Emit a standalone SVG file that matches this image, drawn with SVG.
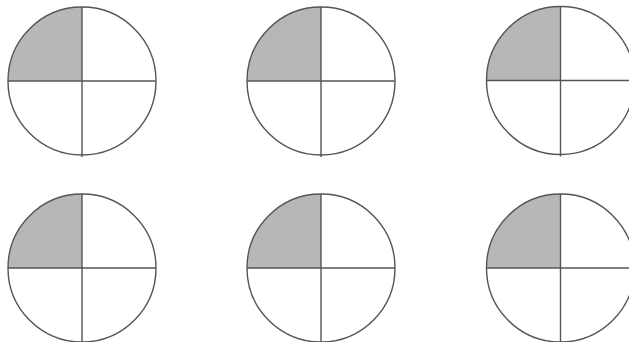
<svg xmlns="http://www.w3.org/2000/svg" width="629" height="342" viewBox="0 0 629 342">
<style>
.c{fill:none;stroke:#555;stroke-width:1.4}
.q{fill:#b7b7b7;stroke:none}
.l{stroke:#555;stroke-width:1.4}
</style>
<defs>
<g id="pie">
<path class="q" d="M0,0 L-74,0 A74,74 0 0 1 0,-74 Z"/>
<circle class="c" r="74"/>
<line class="l" x1="-74" y1="0" x2="74" y2="0"/>
<line class="l" x1="0" y1="-74" x2="0" y2="76"/>
</g>
</defs>
<rect width="629" height="342" fill="#fff"/>
<g id="circle1" transform="translate(82,81)"><use href="#pie"/></g>
<g id="circle2" transform="translate(321,81)"><use href="#pie"/></g>
<g id="circle3" transform="translate(560.5,80.5)"><use href="#pie"/></g>
<g id="circle4" transform="translate(82,268)"><use href="#pie"/></g>
<g id="circle5" transform="translate(321,268)"><use href="#pie"/></g>
<g id="circle6" transform="translate(560.5,268)"><use href="#pie"/></g>
</svg>
